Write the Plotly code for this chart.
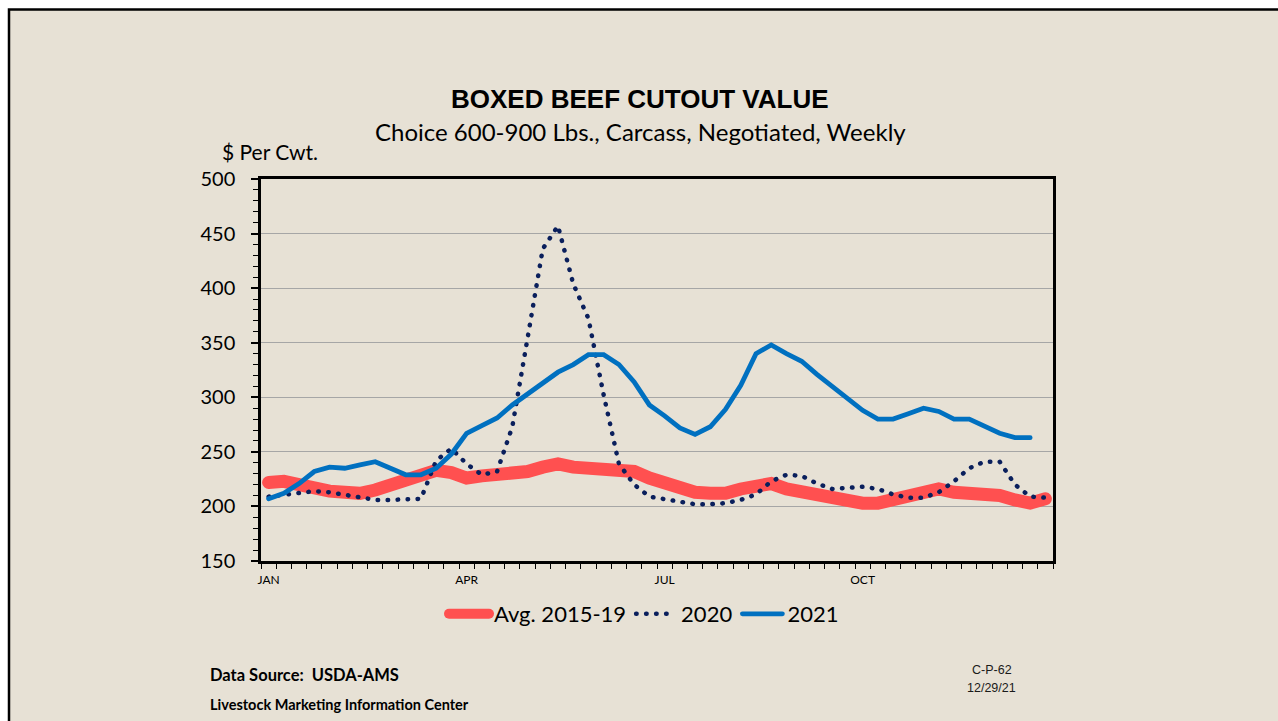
import plotly.graph_objects as go

weeks = list(range(1, 53))
month_tick_weeks = [1, 14, 27, 40]
month_labels = ["JAN", "APR", "JUL", "OCT"]

avg_2015_19 = [222, 223, 220, 216, 214, 213, 212, 215, 220, 226, 230, 233, 231, 226, 228, 229,
               230, 232, 236, 239, 236, 235, 235, 235, 232, 226, 221, 216, 213, 212, 212, 216,
               220, 221, 216, 213, 209, 206, 204, 203, 203, 206, 209, 214, 216, 213, 212, 212,
               210, 206, 203, 207]
y2020 = [209, 211, 213, 214, 213, 211, 208, 206, 206, 207, 207, 242, 253, 239, 229, 232,
         273, 354, 436, 457, 404, 372, 302, 239, 220, 209, 207, 205, 202, 202, 203, 206,
         211, 223, 229, 228, 221, 216, 217, 218, 216, 211, 208, 208, 213, 223, 235, 241,
         241, 220, 209, 208]
y2021 = [207, 212, 221, 232, 236, 235, 238, 241, 235, 229, 229, 235, 248, 267, 274, 281,
         293, 303, 314, 323, 330, 339, 339, 330, 314, 293, 283, 272, 266, 273, 289, 311,
         340, 348, 340, 333, 321, 310, 299, 288, 280, 280, 285, 290, 287, 280, 280, 273,
         267, 263, 263, None]

W, H = 1278, 721
L, R, T, B = 261, 1053, 179, 561


def px(x):
    return (x - L) / (R - L)


def py(y):
    return (B - y) / (B - T)


FONT = "Lato"

fig = go.Figure()
fig.add_trace(go.Scatter(x=weeks, y=avg_2015_19, name="Avg. 2015-19", mode="lines",
                         line=dict(color="#FF5050", width=13)))
fig.add_trace(go.Scatter(x=weeks, y=y2020, name="2020", mode="lines",
                         line=dict(color="#0A1F5C", width=4.5, dash="0.5px,9.5px")))
fig.add_trace(go.Scatter(x=weeks, y=y2021, name="2021", mode="lines",
                         line=dict(color="#0070C0", width=4.8)))

fig.update_layout(
    width=W, height=H,
    margin=dict(l=L, r=W - R, t=T, b=H - B),
    paper_bgcolor="white",
    plot_bgcolor="white",
    font=dict(family=FONT, color="black"),
    showlegend=True,
    legend=dict(orientation="h", x=px(644), y=py(614), xanchor="center", yanchor="middle",
                font=dict(size=22, family=FONT), bgcolor="rgba(0,0,0,0)", itemwidth=40),
    xaxis=dict(range=[0.5, 52.5], tickmode="array", tickvals=month_tick_weeks,
               ticktext=month_labels, ticks="", showgrid=False, zeroline=False,
               showline=True, linecolor="black", linewidth=2.5, mirror=True,
               tickfont=dict(size=12, family=FONT), ticklabelstandoff=6,
               minor=dict(tickmode="linear", tick0=0.5, dtick=1, ticks="outside",
                          ticklen=5, tickcolor="black", tickwidth=1, showgrid=False)),
    yaxis=dict(range=[150, 500], tickmode="linear", tick0=150, dtick=50,
               ticks="outside", ticklen=7, tickcolor="black", tickwidth=1.5,
               showgrid=True, gridcolor="#A6A6A6", gridwidth=1, zeroline=False,
               showline=True, linecolor="black", linewidth=2.5, mirror=True,
               tickfont=dict(size=20, family=FONT), ticklabelstandoff=12,
               minor=dict(tickmode="linear", tick0=150, dtick=10, ticks="outside",
                          ticklen=5, tickcolor="black", tickwidth=1, showgrid=False)),
)

# slide background and frame
fig.add_shape(type="rect", xref="paper", yref="paper",
              x0=px(9), x1=px(1290), y0=py(9.5), y1=py(740),
              fillcolor="#E7E1D5", line=dict(color="black", width=2.5), layer="below")

fig.add_annotation(text="<b>BOXED BEEF CUTOUT VALUE</b>", x=px(640), y=py(99), xref="paper",
                   yref="paper", xanchor="center", yanchor="middle", showarrow=False,
                   font=dict(size=26, family="Liberation Sans", color="black"))
fig.add_annotation(text="Choice 600-900 Lbs., Carcass, Negotiated, Weekly", x=px(640), y=py(131),
                   xref="paper", yref="paper", xanchor="center", yanchor="middle",
                   showarrow=False, font=dict(size=24, family=FONT, color="black"))
fig.add_annotation(text="$ Per Cwt.", x=px(220), y=py(151), xref="paper", yref="paper",
                   xanchor="left", yanchor="middle", showarrow=False,
                   font=dict(size=21, family=FONT, color="black"))
fig.add_annotation(text="<b>Data Source:  USDA-AMS</b>", x=px(208), y=py(675), xref="paper",
                   yref="paper", xanchor="left", yanchor="middle", showarrow=False,
                   font=dict(size=16.5, family=FONT, color="black"))
fig.add_annotation(text="<b>Livestock Marketing Information Center</b>", x=px(208), y=py(704),
                   xref="paper", yref="paper", xanchor="left", yanchor="middle",
                   showarrow=False, font=dict(size=14.5, family=FONT, color="black"))
fig.add_annotation(text="C-P-62", x=px(992), y=py(670), xref="paper", yref="paper",
                   xanchor="center", yanchor="middle", showarrow=False,
                   font=dict(size=12.5, family="Liberation Sans", color="#1A1A1A"))
fig.add_annotation(text="12/29/21", x=px(991), y=py(688), xref="paper", yref="paper",
                   xanchor="center", yanchor="middle", showarrow=False,
                   font=dict(size=12.5, family="Liberation Sans", color="#1A1A1A"))

post = """
var st = document.createElement('style');
st.innerHTML = 'html, body { margin: 0 !important; padding: 0 !important; overflow: hidden; } .js-line { stroke-linecap: round; }';
document.head.appendChild(st);
"""
fig.write_html("out.html", post_script=post, config={"displayModeBar": False})
